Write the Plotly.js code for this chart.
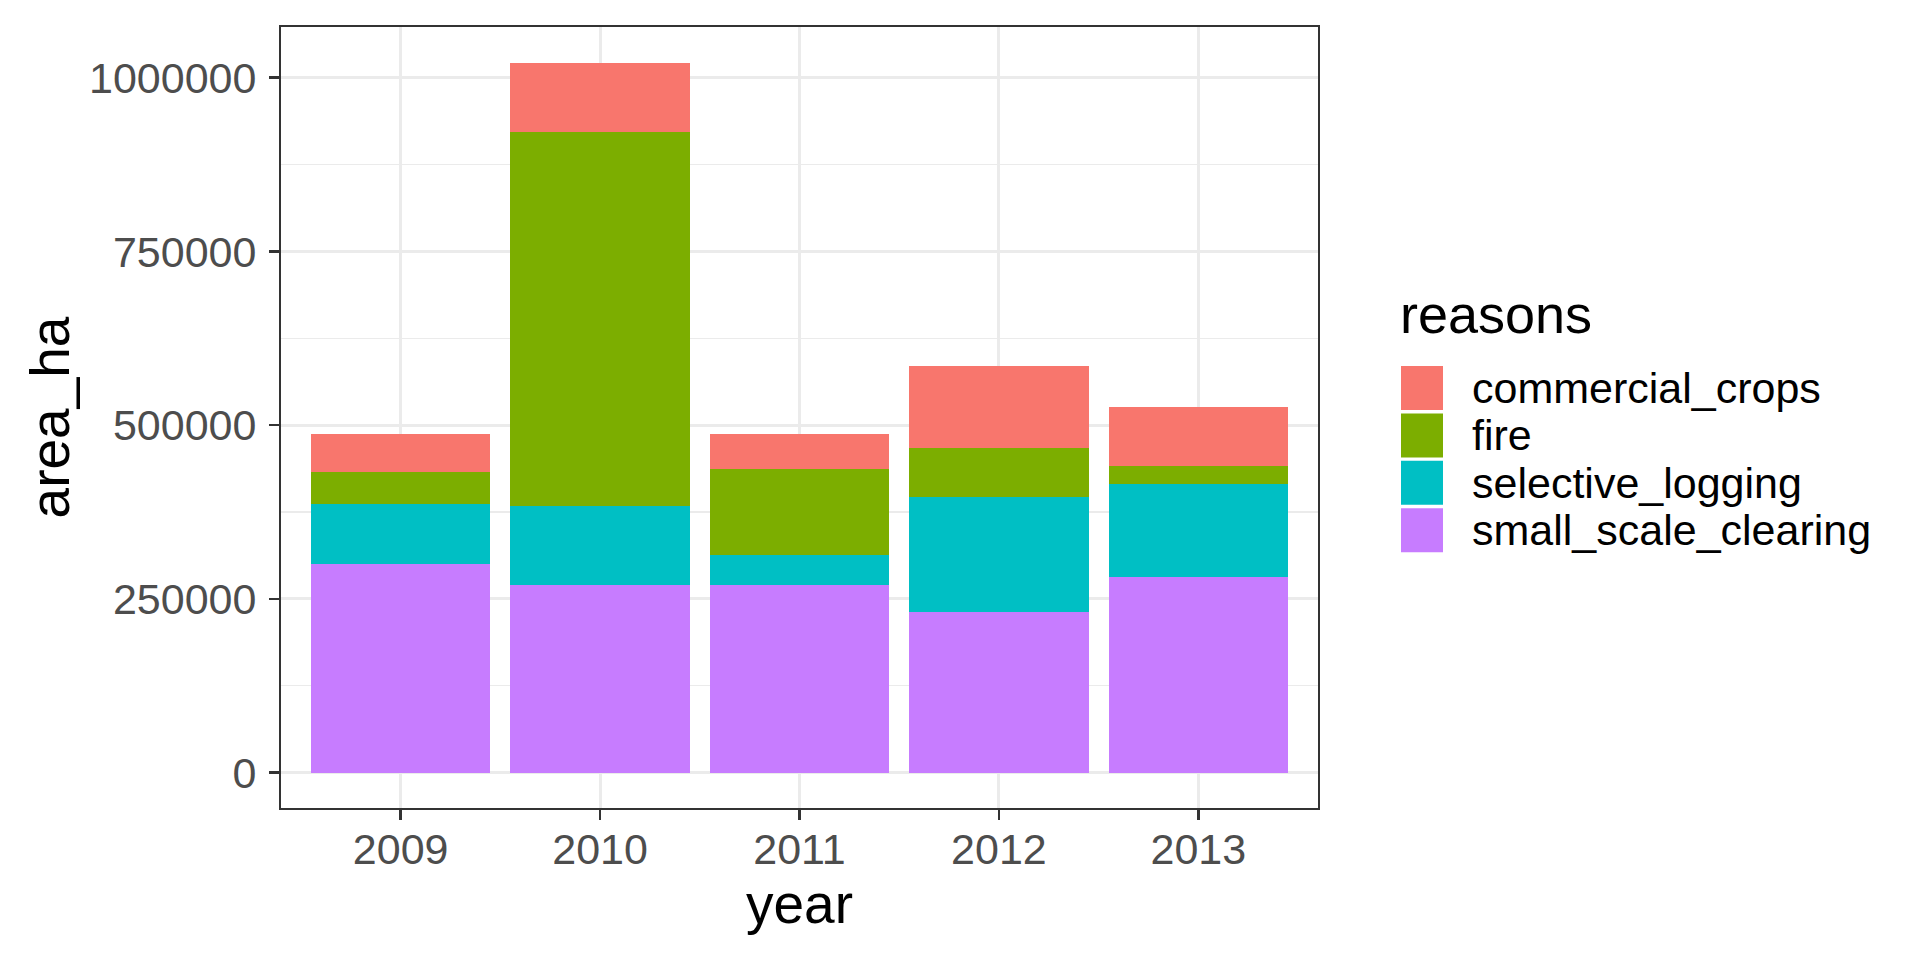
<!DOCTYPE html>
<html>
<head>
<meta charset="utf-8">
<script src="https://cdn.plot.ly/plotly-3.0.1.min.js"></script>
<style>html,body{margin:0;padding:0;background:#fff;}#chart{width:1920px;height:960px;}</style>
</head>
<body>
<div id="chart"></div>
<script>
// ---- data ----
const years = ["2009", "2010", "2011", "2012", "2013"];
const reasons = ["commercial_crops", "fire", "selective_logging", "small_scale_clearing"];
const commercial_crops = [55700, 100400, 51300, 117900, 85000];
const fire = [45400, 537700, 123000, 70300, 26300];
const selective_logging = [86800, 114300, 44000, 166300, 132600];
const small_scale_clearing = [300000, 269600, 269600, 230800, 282100];
const yTickVals = [0, 250000, 500000, 750000, 1000000];
const yTickText = ["0", "250000", "500000", "750000", "1000000"];

const colors = {
  commercial_crops: "#F8766D",
  fire: "#7CAE00",
  selective_logging: "#00BFC4",
  small_scale_clearing: "#C77CFF"
};
const seriesValues = {commercial_crops, fire, selective_logging, small_scale_clearing};

// stacking: bottom first
const stackOrder = ["small_scale_clearing", "selective_logging", "fire", "commercial_crops"];
const traces = stackOrder.map(name => ({
  type: "bar",
  name: name,
  x: years,
  y: seriesValues[name],
  marker: {color: colors[name], line: {width: 0}},
  showlegend: false,
  hovertemplate: name + ": %{y}<extra>%{x}</extra>"
}));

// panel geometry (pixels)
const W = 1920, H = 960;
const PL = 281, PR = 1318, PT = 27, PB = 808;
const px = x => (x - PL) / (PR - PL);
const py = y => (PB - y) / (PB - PT);

const FONT = "Liberation Sans, Arial, sans-serif";
const shapes = [];
const annotations = [];

// legend title
annotations.push({
  xref: "paper", yref: "paper", x: px(1398), y: py(314),
  xanchor: "left", yanchor: "middle", showarrow: false,
  text: "reasons", font: {family: FONT, size: 54, color: "#000000"}
});
// legend keys
const keyTop = 366, keyStep = 47.4, keyH = 44;
reasons.forEach((r, i) => {
  const top = keyTop + i * keyStep;
  shapes.push({
    type: "rect", xref: "paper", yref: "paper",
    x0: px(1401), x1: px(1443), y0: py(top), y1: py(top + keyH),
    fillcolor: colors[r], line: {width: 0}, layer: "above"
  });
  annotations.push({
    xref: "paper", yref: "paper", x: px(1470), y: py(top + keyH / 2),
    xanchor: "left", yanchor: "middle", showarrow: false,
    text: r, font: {family: FONT, size: 43, color: "#000000"}
  });
});

const layout = {
  width: W, height: H,
  margin: {l: PL, r: W - PR, t: PT, b: H - PB, pad: 0},
  paper_bgcolor: "#FFFFFF",
  plot_bgcolor: "#FFFFFF",
  barmode: "stack",
  bargap: 0.1,
  showlegend: false,
  font: {family: FONT},
  xaxis: {
    type: "category",
    range: [-0.6, 4.6],
    showgrid: true, gridcolor: "#EBEBEB", gridwidth: 3,
    showline: true, linecolor: "#333333", linewidth: 2, mirror: true,
    ticks: "outside", ticklen: 10, tickwidth: 2.6, tickcolor: "#333333",
    tickfont: {family: FONT, size: 43, color: "#4D4D4D"},
    ticklabelstandoff: -8,
    zeroline: false,
    title: {text: "year", font: {family: FONT, size: 55, color: "#000000"}, standoff: 4}
  },
  yaxis: {
    range: [-51100, 1073100],
    tickmode: "array", tickvals: yTickVals, ticktext: yTickText,
    showgrid: true, gridcolor: "#EBEBEB", gridwidth: 3,
    minor: {showgrid: true, gridcolor: "#EBEBEB", gridwidth: 1.5, tickmode: "array",
            tickvals: [125000, 375000, 625000, 875000], ticks: ""},
    showline: true, linecolor: "#333333", linewidth: 2, mirror: true,
    ticks: "outside", ticklen: 10, tickwidth: 2.6, tickcolor: "#333333",
    tickfont: {family: FONT, size: 43, color: "#4D4D4D"},
    ticklabelstandoff: 4,
    zeroline: false,
    title: {text: "area_ha", font: {family: FONT, size: 55, color: "#000000"}, standoff: 2}
  },
  shapes: shapes,
  annotations: annotations
};

Plotly.newPlot("chart", traces, layout, {displayModeBar: false, staticPlot: true});
</script>
</body>
</html>
